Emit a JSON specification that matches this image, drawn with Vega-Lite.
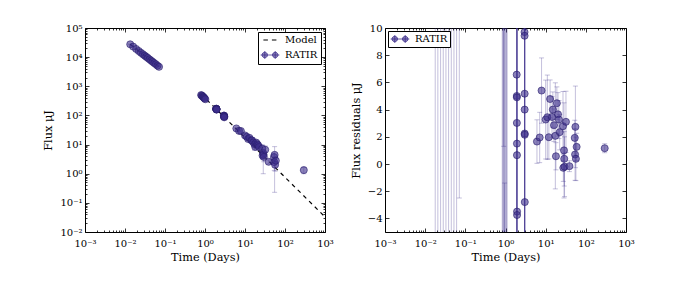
{
  "$schema": "https://vega.github.io/schema/vega-lite/v6.json",
  "padding": {"left": 42, "top": 22, "right": 5, "bottom": 5},
  "spacing": 60,
  "bounds": "flush",
  "resolve": {"scale": {"color": "independent"}, "legend": {"color": "independent"}},
  "config": {
    "view": {"stroke": "black", "strokeWidth": 1},
    "axis": {"grid": false, "domain": false, "tickColor": "black", "tickWidth": 0.8, "labelColor": "black", "titleColor": "black", "labelFont": "DejaVu Serif", "titleFont": "DejaVu Serif", "labelFontSize": 10, "titleFontSize": 11.3, "titleFontWeight": "normal", "labelFlush": false, "labelOverlap": false, "labelBound": false},
    "legend": {"labelFont": "DejaVu Serif", "labelFontSize": 10, "labelColor": "black"}
  },
  "datasets": {
    "model": [
      {"t": 0.0135, "f": 27500, "seg": "early"},
      {"t": 0.071, "f": 4650, "seg": "early"},
      {"t": 0.8, "f": 537, "seg": "late"},
      {"t": 1000, "f": 0.033, "seg": "late"}
    ],
    "flux": [
      {"t": 0.0135, "f": 27500, "lo": 26700, "hi": 28300},
      {"t": 0.016, "f": 23000, "lo": 22300, "hi": 23700},
      {"t": 0.019, "f": 19100, "lo": 18500, "hi": 19700},
      {"t": 0.022, "f": 16300, "lo": 15800, "hi": 16800},
      {"t": 0.025, "f": 14200, "lo": 13800, "hi": 14600},
      {"t": 0.028, "f": 12600, "lo": 12200, "hi": 13000},
      {"t": 0.031, "f": 11300, "lo": 11000, "hi": 11600},
      {"t": 0.034, "f": 10300, "lo": 10000, "hi": 10600},
      {"t": 0.037, "f": 9400, "lo": 9120, "hi": 9680},
      {"t": 0.041, "f": 8400, "lo": 8150, "hi": 8650},
      {"t": 0.045, "f": 7600, "lo": 7370, "hi": 7830},
      {"t": 0.049, "f": 6900, "lo": 6690, "hi": 7110},
      {"t": 0.054, "f": 6250, "lo": 6060, "hi": 6440},
      {"t": 0.059, "f": 5700, "lo": 5530, "hi": 5870},
      {"t": 0.065, "f": 5100, "lo": 4950, "hi": 5250},
      {"t": 0.071, "f": 4650, "lo": 4510, "hi": 4790},
      {"t": 0.80, "f": 500, "lo": 485, "hi": 515},
      {"t": 0.83, "f": 480, "lo": 466, "hi": 494},
      {"t": 0.86, "f": 460, "lo": 446, "hi": 474},
      {"t": 0.89, "f": 440, "lo": 427, "hi": 453},
      {"t": 0.92, "f": 420, "lo": 407, "hi": 433},
      {"t": 0.95, "f": 400, "lo": 388, "hi": 412},
      {"t": 0.98, "f": 380, "lo": 369, "hi": 391},
      {"t": 1.02, "f": 360, "lo": 349, "hi": 371},
      {"t": 1.90, "f": 170, "lo": 165, "hi": 175},
      {"t": 1.91, "f": 168, "lo": 163, "hi": 173},
      {"t": 1.92, "f": 168, "lo": 163, "hi": 173},
      {"t": 1.92, "f": 166, "lo": 161, "hi": 171},
      {"t": 1.93, "f": 165, "lo": 160, "hi": 170},
      {"t": 1.93, "f": 164, "lo": 159, "hi": 169},
      {"t": 1.94, "f": 160, "lo": 155, "hi": 165},
      {"t": 1.94, "f": 159, "lo": 154, "hi": 164},
      {"t": 2.98, "f": 98.7, "lo": 95.7, "hi": 101.7},
      {"t": 2.99, "f": 98.4, "lo": 95.4, "hi": 101.4},
      {"t": 3.00, "f": 94.2, "lo": 91.4, "hi": 97.0},
      {"t": 3.00, "f": 93.0, "lo": 90.2, "hi": 95.8},
      {"t": 3.01, "f": 91.2, "lo": 88.5, "hi": 93.9},
      {"t": 3.01, "f": 91.2, "lo": 88.5, "hi": 93.9},
      {"t": 3.02, "f": 86.2, "lo": 83.6, "hi": 88.8},
      {"t": 6.07, "f": 35.8, "lo": 34.2, "hi": 37.4},
      {"t": 7.1, "f": 29.5, "lo": 27.65, "hi": 31.35},
      {"t": 7.9, "f": 29.2, "lo": 26.8, "hi": 31.6},
      {"t": 10, "f": 20.6, "lo": 17.7, "hi": 23.5},
      {"t": 11, "f": 18.6, "lo": 15.5, "hi": 21.7},
      {"t": 12, "f": 15.5, "lo": 13.9, "hi": 17.1},
      {"t": 12.9, "f": 17.0, "lo": 15.6, "hi": 18.4},
      {"t": 14.4, "f": 14.0, "lo": 12.5, "hi": 15.5},
      {"t": 15.1, "f": 13.9, "lo": 12.6, "hi": 15.2},
      {"t": 16.1, "f": 11.9, "lo": 10.7, "hi": 13.1},
      {"t": 17.4, "f": 10.2, "lo": 6.3, "hi": 14.1},
      {"t": 18, "f": 8.35, "lo": 7.35, "hi": 9.35},
      {"t": 19, "f": 11.7, "lo": 10.5, "hi": 12.9},
      {"t": 20.3, "f": 10.3, "lo": 8.7, "hi": 11.9},
      {"t": 21.4, "f": 9.4, "lo": 8.0, "hi": 10.8},
      {"t": 22.3, "f": 8.2, "lo": 6.9, "hi": 9.5},
      {"t": 27, "f": 7.3, "lo": 4.75, "hi": 9.85},
      {"t": 27.5, "f": 4.2, "lo": 3.2, "hi": 5.2},
      {"t": 28.6, "f": 5.15, "lo": 1.0, "hi": 6.2},
      {"t": 29, "f": 4.5, "lo": 3.5, "hi": 5.5},
      {"t": 29.5, "f": 3.77, "lo": 2.57, "hi": 4.97},
      {"t": 32, "f": 6.66, "lo": 4.41, "hi": 8.91},
      {"t": 39, "f": 2.56, "lo": 2.16, "hi": 2.96},
      {"t": 53, "f": 3.71, "lo": 2.41, "hi": 5.01},
      {"t": 55, "f": 4.43, "lo": 0.23, "hi": 8.5},
      {"t": 54, "f": 2.5, "lo": 1.3, "hi": 3.7},
      {"t": 56.6, "f": 2.02, "lo": 1.22, "hi": 2.82},
      {"t": 59, "f": 2.81, "lo": 1.81, "hi": 3.81},
      {"t": 295, "f": 1.33, "lo": 1.0, "hi": 1.66}
    ],
    "resid": [
      {"t": 0.0178, "r": 200, "lo": -200, "hi": 600},
      {"t": 0.0207, "r": 200, "lo": -200, "hi": 600},
      {"t": 0.0242, "r": 200, "lo": -200, "hi": 600},
      {"t": 0.0282, "r": 200, "lo": -200, "hi": 600},
      {"t": 0.0329, "r": 200, "lo": -200, "hi": 600},
      {"t": 0.0383, "r": 200, "lo": -200, "hi": 600},
      {"t": 0.0447, "r": 200, "lo": -200, "hi": 600},
      {"t": 0.0521, "r": 200, "lo": -200, "hi": 600},
      {"t": 0.0607, "r": 200, "lo": -200, "hi": 600},
      {"t": 0.0708, "r": 300, "lo": -2.5, "hi": 600},
      {"t": 0.83, "r": 100, "lo": -100, "hi": 300},
      {"t": 0.86, "r": 100, "lo": -100, "hi": 300},
      {"t": 0.89, "r": 100, "lo": -100, "hi": 300},
      {"t": 0.92, "r": 100, "lo": -100, "hi": 300},
      {"t": 0.95, "r": 100, "lo": -100, "hi": 300},
      {"t": 0.98, "r": 100, "lo": -100, "hi": 300},
      {"t": 1.02, "r": 100, "lo": -100, "hi": 300},
      {"t": 1.06, "r": 100, "lo": -100, "hi": 300},
      {"t": 1.10, "r": 100, "lo": -100, "hi": 300},
      {"t": 0.90, "r": 25, "lo": 1.3, "hi": 48.7},
      {"t": 0.95, "r": -30, "lo": -60, "hi": -1.4},
      {"t": 1.90, "r": 6.57, "lo": -60, "hi": 60},
      {"t": 1.91, "r": 5.0, "lo": -60, "hi": 60},
      {"t": 1.92, "r": 4.9, "lo": -60, "hi": 60},
      {"t": 1.92, "r": 3.02, "lo": -60, "hi": 60},
      {"t": 1.93, "r": 1.5, "lo": -60, "hi": 60},
      {"t": 1.93, "r": 0.65, "lo": -60, "hi": 60},
      {"t": 1.94, "r": -3.5, "lo": -60, "hi": 60},
      {"t": 1.94, "r": -3.75, "lo": -60, "hi": 60},
      {"t": 2.98, "r": 9.7, "lo": -60, "hi": 60},
      {"t": 2.99, "r": 9.43, "lo": -60, "hi": 60},
      {"t": 3.00, "r": 5.17, "lo": -60, "hi": 60},
      {"t": 3.00, "r": 4.0, "lo": -60, "hi": 60},
      {"t": 3.01, "r": 2.24, "lo": -60, "hi": 60},
      {"t": 3.01, "r": 2.15, "lo": -60, "hi": 60},
      {"t": 3.02, "r": -2.8, "lo": -60, "hi": 60},
      {"t": 6.07, "r": 1.65, "lo": 0.05, "hi": 3.25},
      {"t": 7.1, "r": 1.95, "lo": 0.1, "hi": 3.8},
      {"t": 7.9, "r": 5.4, "lo": 3.0, "hi": 7.8},
      {"t": 10, "r": 3.27, "lo": 0.37, "hi": 6.17},
      {"t": 11, "r": 3.44, "lo": 0.34, "hi": 6.54},
      {"t": 12, "r": 1.97, "lo": 0.37, "hi": 3.57},
      {"t": 12.9, "r": 4.78, "lo": 3.38, "hi": 6.18},
      {"t": 14.4, "r": 3.46, "lo": 1.96, "hi": 4.96},
      {"t": 15.1, "r": 4.0, "lo": 2.7, "hi": 5.3},
      {"t": 16.1, "r": 2.85, "lo": 1.65, "hi": 4.05},
      {"t": 17.4, "r": 2.07, "lo": -1.83, "hi": 5.97},
      {"t": 18, "r": 0.57, "lo": -0.43, "hi": 1.57},
      {"t": 19, "r": 4.47, "lo": 3.27, "hi": 5.67},
      {"t": 20.3, "r": 3.65, "lo": 2.05, "hi": 5.25},
      {"t": 21.4, "r": 3.27, "lo": 1.87, "hi": 4.67},
      {"t": 22.3, "r": 2.34, "lo": 1.04, "hi": 3.64},
      {"t": 27, "r": 2.78, "lo": 0.23, "hi": 5.33},
      {"t": 27.5, "r": -0.28, "lo": -1.28, "hi": 0.72},
      {"t": 28.6, "r": 1.0, "lo": -2.5, "hi": 4.5},
      {"t": 29, "r": 0.38, "lo": -1.62, "hi": 2.38},
      {"t": 29.5, "r": -0.2, "lo": -2.4, "hi": 2.0},
      {"t": 32, "r": 3.1, "lo": 0.85, "hi": 5.35},
      {"t": 39, "r": -0.16, "lo": -0.56, "hi": 0.24},
      {"t": 53, "r": 1.92, "lo": 0.62, "hi": 3.22},
      {"t": 55, "r": 2.73, "lo": -0.27, "hi": 5.73},
      {"t": 54, "r": 0.7, "lo": -1.2, "hi": 2.6},
      {"t": 56.6, "r": 0.38, "lo": -1.22, "hi": 1.98},
      {"t": 59, "r": 1.26, "lo": 0.26, "hi": 2.26},
      {"t": 295, "r": 1.16, "lo": 0.83, "hi": 1.49}
    ]
  },
  "hconcat": [
    {
      "width": 240,
      "height": 204,
      "resolve": {"axis": {"x": "independent", "y": "independent"}},
      "layer": [
        {
          "data": {"name": "model"},
          "mark": {"type": "line", "color": "black", "strokeDash": [4, 4], "strokeWidth": 1.2},
          "encoding": {
            "x": {"field": "t", "type": "quantitative", "scale": {"type": "log", "domain": [0.001, 1000], "nice": false},
              "axis": {"orient": "bottom", "title": "Time (Days)", "titlePadding": 3, "values": [0.001, 0.01, 0.1, 1, 10, 100, 1000], "tickSize": -4, "labelPadding": 10,
                "labelExpr": "'10' + (datum.value < 0.0015 ? '⁻³' : datum.value < 0.015 ? '⁻²' : datum.value < 0.15 ? '⁻¹' : datum.value < 1.5 ? '⁰' : datum.value < 15 ? '¹' : datum.value < 150 ? '²' : '³')"}},
            "y": {"field": "f", "type": "quantitative", "scale": {"type": "log", "domain": [0.01, 100000], "nice": false},
              "axis": {"orient": "left", "title": "Flux μJ", "titlePadding": 6, "values": [0.01, 0.1, 1, 10, 100, 1000, 10000, 100000], "tickSize": -4, "labelPadding": 7,
                "labelExpr": "'10' + (datum.value < 0.015 ? '⁻²' : datum.value < 0.15 ? '⁻¹' : datum.value < 1.5 ? '⁰' : datum.value < 15 ? '¹' : datum.value < 150 ? '²' : datum.value < 1500 ? '³' : datum.value < 15000 ? '⁴' : '⁵')"}},
            "detail": {"field": "seg"}
          }
        },
        {
          "data": {"name": "flux"},
          "mark": {"type": "rule", "opacity": 0.3, "strokeWidth": 1},
          "encoding": {
            "x": {"field": "t", "type": "quantitative", "scale": {"type": "log", "domain": [0.001, 1000], "nice": false},
              "axis": {"orient": "bottom", "title": null, "labels": false, "tickSize": -2,
                "values": [0.002,0.003,0.004,0.005,0.006,0.007,0.008,0.009,0.02,0.03,0.04,0.05,0.06,0.07,0.08,0.09,0.2,0.3,0.4,0.5,0.6,0.7,0.8,0.9,2,3,4,5,6,7,8,9,20,30,40,50,60,70,80,90,200,300,400,500,600,700,800,900]}},
            "y": {"field": "lo", "type": "quantitative", "scale": {"type": "log", "domain": [0.01, 100000], "nice": false},
              "axis": {"orient": "left", "title": null, "labels": false, "tickSize": -2,
                "values": [0.02,0.03,0.04,0.05,0.06,0.07,0.08,0.09,0.2,0.3,0.4,0.5,0.6,0.7,0.8,0.9,2,3,4,5,6,7,8,9,20,30,40,50,60,70,80,90,200,300,400,500,600,700,800,900,2000,3000,4000,5000,6000,7000,8000,9000,20000,30000,40000,50000,60000,70000,80000,90000]}},
            "y2": {"field": "hi"},
            "color": {"datum": "RATIR", "type": "nominal", "scale": {"domain": ["Model", "RATIR"], "range": ["black", "#3d2e8c"]},
              "legend": {"title": null, "orient": "top-right", "offset": 4, "padding": 3, "rowPadding": 4, "strokeColor": "black", "fillColor": "white", "cornerRadius": 0, "symbolOffset": 4, "labelOffset": 10, "symbolSize": 121, "symbolOpacity": 1,
                "symbolType": {"expr": "datum.value === 'Model' ? 'M-1.2,0H1.2' : 'M-1.7,0H1.7M-0.95,-0.7V0.7M0.95,-0.7V0.7M-1.45,0A0.5,0.5 0 1 1 -0.45,0A0.5,0.5 0 1 1 -1.45,0ZM0.45,0A0.5,0.5 0 1 1 1.45,0A0.5,0.5 0 1 1 0.45,0Z'"},
                "symbolFillColor": {"expr": "datum.value === 'Model' ? 'transparent' : 'rgba(61,46,140,0.6)'"},
                "symbolStrokeColor": {"expr": "datum.value === 'Model' ? 'black' : 'rgba(61,46,140,0.55)'"},
                "symbolDash": {"expr": "datum.value === 'Model' ? [4.5, 4] : [1, 0]"},
                "symbolStrokeWidth": {"expr": "datum.value === 'Model' ? 1.2 : 0.8"}}}
          }
        },
        {
          "data": {"name": "flux"},
          "mark": {"type": "tick", "orient": "horizontal", "size": 5, "thickness": 1, "color": "#3d2e8c", "opacity": 0.3},
          "encoding": {
            "x": {"field": "t", "type": "quantitative", "scale": {"type": "log", "domain": [0.001, 1000], "nice": false},
              "axis": {"orient": "top", "title": null, "labels": false, "tickSize": -4, "values": [0.001, 0.01, 0.1, 1, 10, 100, 1000]}},
            "y": {"field": "lo", "type": "quantitative", "scale": {"type": "log", "domain": [0.01, 100000], "nice": false},
              "axis": {"orient": "right", "title": null, "labels": false, "tickSize": -4, "values": [0.01, 0.1, 1, 10, 100, 1000, 10000, 100000]}}
          }
        },
        {
          "data": {"name": "flux"},
          "mark": {"type": "tick", "orient": "horizontal", "size": 5, "thickness": 1, "color": "#3d2e8c", "opacity": 0.3},
          "encoding": {
            "x": {"field": "t", "type": "quantitative", "scale": {"type": "log", "domain": [0.001, 1000], "nice": false},
              "axis": {"orient": "top", "title": null, "labels": false, "tickSize": -2,
                "values": [0.002,0.003,0.004,0.005,0.006,0.007,0.008,0.009,0.02,0.03,0.04,0.05,0.06,0.07,0.08,0.09,0.2,0.3,0.4,0.5,0.6,0.7,0.8,0.9,2,3,4,5,6,7,8,9,20,30,40,50,60,70,80,90,200,300,400,500,600,700,800,900]}},
            "y": {"field": "hi", "type": "quantitative", "scale": {"type": "log", "domain": [0.01, 100000], "nice": false},
              "axis": {"orient": "right", "title": null, "labels": false, "tickSize": -2,
                "values": [0.02,0.03,0.04,0.05,0.06,0.07,0.08,0.09,0.2,0.3,0.4,0.5,0.6,0.7,0.8,0.9,2,3,4,5,6,7,8,9,20,30,40,50,60,70,80,90,200,300,400,500,600,700,800,900,2000,3000,4000,5000,6000,7000,8000,9000,20000,30000,40000,50000,60000,70000,80000,90000]}}
          }
        },
        {
          "data": {"name": "flux"},
          "mark": {"type": "point", "filled": true, "size": 50, "opacity": 1, "fill": "#3d2e8c", "fillOpacity": 0.6, "stroke": "#2a1f6e", "strokeOpacity": 0.8, "strokeWidth": 0.8},
          "encoding": {
            "x": {"field": "t", "type": "quantitative", "scale": {"type": "log", "domain": [0.001, 1000], "nice": false}, "axis": null},
            "y": {"field": "f", "type": "quantitative", "scale": {"type": "log", "domain": [0.01, 100000], "nice": false}, "axis": null}
          }
        }
      ]
    },
    {
      "width": 241,
      "height": 204,
      "resolve": {"axis": {"x": "independent", "y": "independent"}},
      "layer": [
        {
          "data": {"name": "resid"},
          "mark": {"type": "rule", "opacity": 0.3, "strokeWidth": 1, "clip": true},
          "encoding": {
            "x": {"field": "t", "type": "quantitative", "scale": {"type": "log", "domain": [0.001, 1000], "nice": false},
              "axis": {"orient": "bottom", "title": "Time (Days)", "titlePadding": 3, "values": [0.001, 0.01, 0.1, 1, 10, 100, 1000], "tickSize": -4, "labelPadding": 10,
                "labelExpr": "'10' + (datum.value < 0.0015 ? '⁻³' : datum.value < 0.015 ? '⁻²' : datum.value < 0.15 ? '⁻¹' : datum.value < 1.5 ? '⁰' : datum.value < 15 ? '¹' : datum.value < 150 ? '²' : '³')"}},
            "y": {"field": "lo", "type": "quantitative", "scale": {"type": "linear", "domain": [-5, 10], "nice": false, "zero": false},
              "axis": {"orient": "left", "title": "Flux residuals μJ", "titlePadding": 6, "values": [-4, -2, 0, 2, 4, 6, 8, 10], "tickSize": -4, "labelPadding": 7}},
            "y2": {"field": "hi"},
            "color": {"datum": "RATIR", "type": "nominal", "scale": {"domain": ["RATIR"], "range": ["#3d2e8c"]},
              "legend": {"title": null, "orient": "top-left", "offset": 3, "padding": 2, "strokeColor": "black", "fillColor": "white", "cornerRadius": 0, "symbolOffset": 4, "labelOffset": 9, "symbolSize": 121, "symbolOpacity": 1,
                "symbolType": "M-1.7,0H1.7M-0.95,-0.7V0.7M0.95,-0.7V0.7M-1.45,0A0.5,0.5 0 1 1 -0.45,0A0.5,0.5 0 1 1 -1.45,0ZM0.45,0A0.5,0.5 0 1 1 1.45,0A0.5,0.5 0 1 1 0.45,0Z",
                "symbolFillColor": "rgba(61,46,140,0.6)",
                "symbolStrokeColor": "rgba(61,46,140,0.55)",
                "symbolStrokeWidth": 0.8}}
          }
        },
        {
          "data": {"name": "resid"},
          "mark": {"type": "tick", "orient": "horizontal", "size": 5, "thickness": 1, "color": "#3d2e8c", "opacity": 0.3, "clip": true},
          "encoding": {
            "x": {"field": "t", "type": "quantitative", "scale": {"type": "log", "domain": [0.001, 1000], "nice": false},
              "axis": {"orient": "bottom", "title": null, "labels": false, "tickSize": -2,
                "values": [0.002,0.003,0.004,0.005,0.006,0.007,0.008,0.009,0.02,0.03,0.04,0.05,0.06,0.07,0.08,0.09,0.2,0.3,0.4,0.5,0.6,0.7,0.8,0.9,2,3,4,5,6,7,8,9,20,30,40,50,60,70,80,90,200,300,400,500,600,700,800,900]}},
            "y": {"field": "lo", "type": "quantitative", "scale": {"type": "linear", "domain": [-5, 10], "nice": false, "zero": false},
              "axis": {"orient": "right", "title": null, "labels": false, "tickSize": -4, "values": [-4, -2, 0, 2, 4, 6, 8, 10]}}
          }
        },
        {
          "data": {"name": "resid"},
          "mark": {"type": "tick", "orient": "horizontal", "size": 5, "thickness": 1, "color": "#3d2e8c", "opacity": 0.3, "clip": true},
          "encoding": {
            "x": {"field": "t", "type": "quantitative", "scale": {"type": "log", "domain": [0.001, 1000], "nice": false},
              "axis": {"orient": "top", "title": null, "labels": false, "tickSize": -4, "values": [0.001, 0.01, 0.1, 1, 10, 100, 1000]}},
            "y": {"field": "hi", "type": "quantitative", "scale": {"type": "linear", "domain": [-5, 10], "nice": false, "zero": false}, "axis": null}
          }
        },
        {
          "data": {"name": "resid"},
          "mark": {"type": "point", "filled": true, "size": 50, "opacity": 1, "fill": "#3d2e8c", "fillOpacity": 0.6, "stroke": "#2a1f6e", "strokeOpacity": 0.8, "strokeWidth": 0.8, "clip": true},
          "encoding": {
            "x": {"field": "t", "type": "quantitative", "scale": {"type": "log", "domain": [0.001, 1000], "nice": false},
              "axis": {"orient": "top", "title": null, "labels": false, "tickSize": -2,
                "values": [0.002,0.003,0.004,0.005,0.006,0.007,0.008,0.009,0.02,0.03,0.04,0.05,0.06,0.07,0.08,0.09,0.2,0.3,0.4,0.5,0.6,0.7,0.8,0.9,2,3,4,5,6,7,8,9,20,30,40,50,60,70,80,90,200,300,400,500,600,700,800,900]}},
            "y": {"field": "r", "type": "quantitative", "scale": {"type": "linear", "domain": [-5, 10], "nice": false, "zero": false}, "axis": null}
          }
        }
      ]
    }
  ]
}
